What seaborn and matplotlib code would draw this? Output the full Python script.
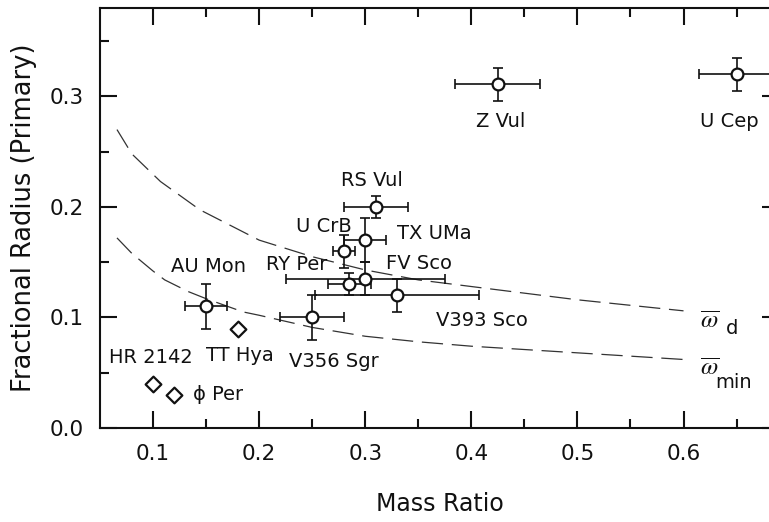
import numpy as np
import pandas as pd
import matplotlib
matplotlib.use("Agg")
import matplotlib.pyplot as plt
import seaborn as sns

# ---------------- data ----------------
star_names = ["Z Vul", "U Cep", "RS Vul", "U CrB", "TX UMa", "RY Per",
              "FV Sco", "V393 Sco", "V356 Sgr", "AU Mon"]
mass_ratio = [0.425, 0.65, 0.31, 0.28, 0.30, 0.285, 0.30, 0.33, 0.25, 0.15]
frac_radius = [0.311, 0.32, 0.20, 0.16, 0.17, 0.13, 0.135, 0.12, 0.10, 0.11]
mass_ratio_err = [0.04, 0.035, 0.03, 0.01, 0.02, 0.02, 0.075, 0.077, 0.03, 0.02]
frac_radius_err = [0.015, 0.015, 0.01, 0.015, 0.02, 0.01, 0.015, 0.015, 0.02, 0.02]

other_names = ["TT Hya", "HR 2142", "\u03d5 Per"]
other_mass_ratio = [0.18, 0.10, 0.12]
other_frac_radius = [0.09, 0.04, 0.03]

omega_d_q = [0.066, 0.08, 0.107, 0.144, 0.20, 0.25, 0.30, 0.35, 0.40, 0.45, 0.50, 0.55, 0.60]
omega_d_r = [0.27, 0.248, 0.223, 0.1975, 0.170, 0.155, 0.143, 0.134, 0.128, 0.122, 0.116, 0.111, 0.106]
omega_min_q = [0.066, 0.08, 0.10, 0.111, 0.133, 0.15, 0.185, 0.20, 0.25, 0.30, 0.35, 0.40, 0.45, 0.50, 0.55, 0.60]
omega_min_r = [0.172, 0.158, 0.142, 0.134, 0.1235, 0.117, 0.105, 0.102, 0.091, 0.083, 0.078, 0.074, 0.071, 0.068, 0.065, 0.062]

x_ticks = [0.1, 0.2, 0.3, 0.4, 0.5, 0.6]
x_tick_labels = ["0.1", "0.2", "0.3", "0.4", "0.5", "0.6"]
y_ticks = [0.0, 0.1, 0.2, 0.3]
y_tick_labels = ["0.0", "0.1", "0.2", "0.3"]

# label placement (layout only)
label_pos = {
    "Z Vul": (0.428, 0.277), "U Cep": (0.643, 0.277), "RS Vul": (0.306, 0.224),
    "U CrB": (0.261, 0.182), "TX UMa": (0.365, 0.176), "RY Per": (0.235, 0.148),
    "FV Sco": (0.351, 0.149), "V393 Sco": (0.41, 0.097), "V356 Sgr": (0.27, 0.060),
    "AU Mon": (0.152, 0.146), "TT Hya": (0.182, 0.066), "HR 2142": (0.0976, 0.0634),
    "\u03d5 Per": (0.161, 0.030),
}

# ---------------- plot ----------------
sns.set_style("ticks")
plt.rcParams["font.family"] = ["DejaVu Sans"]
ink = "#111111"

fig = plt.figure(figsize=(7.69, 5.22), dpi=100)
ax = fig.add_axes([100 / 769, 94 / 522, 679 / 769, 420 / 522])

curves = pd.DataFrame({"q": omega_d_q, "r": omega_d_r})
curves2 = pd.DataFrame({"q": omega_min_q, "r": omega_min_r})
sns.lineplot(data=curves, x="q", y="r", ax=ax, color="#333333", lw=0.9,
             linestyle=(0, (17, 7)), errorbar=None, zorder=1)
sns.lineplot(data=curves2, x="q", y="r", ax=ax, color="#333333", lw=0.9,
             linestyle=(0, (17, 7)), errorbar=None, zorder=1)

ax.errorbar(mass_ratio, frac_radius, xerr=mass_ratio_err, yerr=frac_radius_err,
            fmt="none", ecolor=ink, elinewidth=1.2, capsize=3.4, capthick=1.2, zorder=3)

stars = pd.DataFrame({"q": mass_ratio, "r": frac_radius})
sns.scatterplot(data=stars, x="q", y="r", ax=ax, marker="o", s=72,
                facecolor="white", edgecolor=ink, linewidth=1.6, zorder=5)
others = pd.DataFrame({"q": other_mass_ratio, "r": other_frac_radius})
sns.scatterplot(data=others, x="q", y="r", ax=ax, marker="D", s=64,
                facecolor="white", edgecolor=ink, linewidth=1.6, zorder=5)

for name, (lx, ly) in label_pos.items():
    ax.text(lx, ly, name, ha="center", va="center", fontsize=14, color=ink)

# omega-bar curve labels
ax.text(0.6155, 0.097, r"$\overline{\omega}$", ha="left", va="center",
        fontsize=18, color=ink, math_fontfamily="stix")
ax.text(0.6457, 0.090, "d", ha="center", va="center", fontsize=14, color=ink)
ax.text(0.6155, 0.0545, r"$\overline{\omega}$", ha="left", va="center",
        fontsize=18, color=ink, math_fontfamily="stix")
ax.text(0.6476, 0.0415, "min", ha="center", va="center", fontsize=14, color=ink)

ax.set_xlim(0.05, 0.69)
ax.set_ylim(0.0, 0.38)
ax.set_xticks(x_ticks)
ax.set_xticklabels(x_tick_labels)
ax.set_xticks([0.15, 0.25, 0.35, 0.45, 0.55, 0.65], minor=True)
ax.set_yticks(y_ticks)
ax.set_yticklabels(y_tick_labels)
ax.set_yticks([0.05, 0.15, 0.25, 0.35], minor=True)

ax.tick_params(which="both", direction="in", top=True, right=True, width=1.5,
               color=ink, labelcolor=ink)
ax.tick_params(which="major", length=12, labelsize=15.5, pad=11.5)
ax.tick_params(which="minor", length=6.5)
for sp in ax.spines.values():
    sp.set_linewidth(1.5)
    sp.set_color(ink)

ax.set_xlabel("Mass Ratio", fontsize=17, color=ink, labelpad=20)
ax.set_ylabel("Fractional Radius (Primary)", fontsize=18.5, color=ink, labelpad=9)

fig.savefig("out.png", dpi=100)
